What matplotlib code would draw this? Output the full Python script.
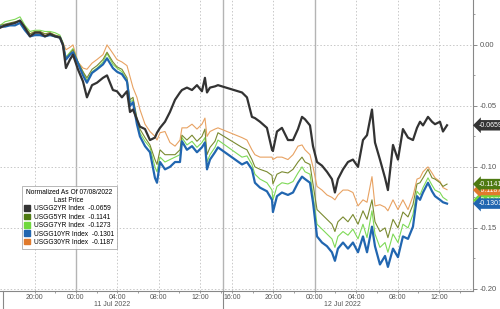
import matplotlib
matplotlib.use("Agg")
import matplotlib.pyplot as plt
import matplotlib.patches as mpatches
import matplotlib.transforms as mtransforms

plt.rcParams['font.family'] = ['Liberation Sans', 'DejaVu Sans']

# hours from 00:00 11 Jul 2022, on a session axis (the lunch/close gap is squeezed out)
GAP = 0.93
hours = [-7.34, -6.86, -6.38, -5.89, -5.41, -4.93, -4.44, -3.96, -3.48, -3.00,
         -2.51, -2.03, -1.55, -1.26, -0.97, -0.58, -0.29, 0.19, 0.68, 1.06,
         1.55, 2.03, 2.61, 3.00, 3.57, 3.96, 4.44, 4.93, 5.22, 5.51,
         5.89, 6.18, 6.67, 7.15, 7.63, 7.83, 8.12, 8.60, 9.08, 9.57,
         10.05, 10.24, 10.72, 11.21, 11.69, 12.17, 12.46, 12.66, 12.95, 13.43,
         13.72,
         16.04, 16.52, 17.00, 17.29, 17.78, 18.45, 18.94, 19.03, 19.42, 19.90,
         20.48, 20.97, 21.45, 21.84, 22.13, 22.61, 22.90, 23.29, 23.77, 24.25,
         24.73, 25.02, 25.31, 25.80, 26.28, 26.76, 27.25, 27.73, 28.12, 28.60,
         28.89, 29.37, 29.86, 30.14, 30.63, 31.11, 31.59, 32.08, 32.56, 32.95,
         33.24, 33.53, 34.01, 34.40, 34.69, 35.17, 35.46, 35.85]

usgg2yr = [0.014, 0.016, 0.017, 0.018, 0.020, 0.014, 0.007, 0.010, 0.010, 0.007,
           0.009, 0.007, 0.006, 0.000, -0.019, -0.012, -0.008, -0.020, -0.030, -0.043,
           -0.033, -0.031, -0.027, -0.025, -0.037, -0.038, -0.043, -0.038, -0.055, -0.053,
           -0.061, -0.067, -0.069, -0.078, -0.076, -0.072, -0.068, -0.063, -0.055, -0.045,
           -0.039, -0.037, -0.035, -0.037, -0.033, -0.038, -0.027, -0.039, -0.035, -0.034,
           -0.033,
           -0.039, -0.043, -0.059, -0.060, -0.063, -0.068, -0.086, -0.087, -0.071, -0.068,
           -0.078, -0.078, -0.069, -0.059, -0.061, -0.066, -0.083, -0.096, -0.099, -0.104,
           -0.110, -0.121, -0.110, -0.102, -0.096, -0.094, -0.100, -0.078, -0.074, -0.053,
           -0.080, -0.094, -0.109, -0.119, -0.082, -0.094, -0.069, -0.076, -0.078, -0.068,
           -0.063, -0.066, -0.059, -0.063, -0.065, -0.063, -0.071, -0.0659]

usgg5yr = [0.016, 0.017, 0.018, 0.019, 0.020, 0.015, 0.009, 0.011, 0.011, 0.009,
           0.010, 0.008, 0.007, 0.001, -0.011, -0.007, -0.004, -0.014, -0.022, -0.027,
           -0.020, -0.017, -0.012, -0.006, -0.014, -0.018, -0.020, -0.027, -0.045, -0.043,
           -0.060, -0.069, -0.076, -0.082, -0.094, -0.098, -0.086, -0.090, -0.090, -0.090,
           -0.086, -0.074, -0.078, -0.074, -0.079, -0.075, -0.069, -0.090, -0.084, -0.079,
           -0.072,
           -0.084, -0.086, -0.094, -0.100, -0.102, -0.104, -0.107, -0.114, -0.106, -0.104,
           -0.105, -0.102, -0.096, -0.092, -0.096, -0.098, -0.114, -0.135, -0.139, -0.143,
           -0.147, -0.153, -0.145, -0.141, -0.145, -0.139, -0.147, -0.136, -0.143, -0.127,
           -0.145, -0.153, -0.150, -0.158, -0.143, -0.150, -0.137, -0.141, -0.131, -0.114,
           -0.113, -0.109, -0.102, -0.109, -0.110, -0.113, -0.116, -0.1141]

usgg7yr = [0.016, 0.019, 0.020, 0.021, 0.023, 0.016, 0.011, 0.012, 0.012, 0.011,
           0.011, 0.010, 0.008, 0.002, -0.010, -0.006, -0.003, -0.014, -0.022, -0.029,
           -0.022, -0.019, -0.014, -0.007, -0.016, -0.019, -0.022, -0.029, -0.047, -0.045,
           -0.061, -0.072, -0.079, -0.084, -0.100, -0.104, -0.092, -0.096, -0.094, -0.092,
           -0.090, -0.076, -0.082, -0.079, -0.084, -0.080, -0.076, -0.096, -0.090, -0.084,
           -0.078,
           -0.092, -0.091, -0.098, -0.106, -0.110, -0.113, -0.119, -0.127, -0.116, -0.113,
           -0.114, -0.112, -0.105, -0.100, -0.104, -0.106, -0.123, -0.147, -0.151, -0.155,
           -0.159, -0.166, -0.157, -0.153, -0.156, -0.151, -0.159, -0.147, -0.158, -0.136,
           -0.155, -0.166, -0.162, -0.170, -0.155, -0.162, -0.147, -0.150, -0.139, -0.120,
           -0.123, -0.117, -0.109, -0.115, -0.119, -0.121, -0.125, -0.1273]

usgg10yr = [0.015, 0.015, 0.016, 0.016, 0.018, 0.012, 0.007, 0.008, 0.008, 0.007,
            0.008, 0.007, 0.006, 0.000, -0.012, -0.008, -0.006, -0.015, -0.025, -0.031,
            -0.023, -0.020, -0.016, -0.011, -0.019, -0.022, -0.024, -0.030, -0.050, -0.047,
            -0.065, -0.075, -0.083, -0.088, -0.109, -0.113, -0.096, -0.102, -0.100, -0.096,
            -0.096, -0.079, -0.086, -0.083, -0.088, -0.084, -0.080, -0.102, -0.094, -0.088,
            -0.084,
            -0.098, -0.096, -0.102, -0.113, -0.117, -0.120, -0.127, -0.137, -0.124, -0.121,
            -0.123, -0.121, -0.113, -0.108, -0.110, -0.113, -0.129, -0.157, -0.162, -0.165,
            -0.170, -0.177, -0.167, -0.162, -0.167, -0.162, -0.170, -0.157, -0.170, -0.149,
            -0.165, -0.180, -0.173, -0.182, -0.167, -0.174, -0.157, -0.159, -0.149, -0.124,
            -0.127, -0.121, -0.113, -0.120, -0.124, -0.127, -0.129, -0.1301]

usgg30yr = [0.015, 0.016, 0.017, 0.018, 0.020, 0.014, 0.009, 0.011, 0.011, 0.009,
            0.010, 0.008, 0.007, 0.002, -0.004, -0.002, 0.000, -0.014, -0.019, -0.020,
            -0.015, -0.012, -0.008, 0.000, -0.007, -0.012, -0.014, -0.017, -0.026, -0.035,
            -0.043, -0.053, -0.065, -0.071, -0.075, -0.078, -0.072, -0.071, -0.080, -0.083,
            -0.078, -0.068, -0.068, -0.065, -0.069, -0.065, -0.060, -0.075, -0.071, -0.069,
            -0.068,
            -0.076, -0.078, -0.086, -0.090, -0.092, -0.092, -0.092, -0.094, -0.092, -0.092,
            -0.094, -0.090, -0.083, -0.082, -0.086, -0.090, -0.100, -0.116, -0.119, -0.123,
            -0.125, -0.127, -0.123, -0.119, -0.119, -0.121, -0.132, -0.127, -0.129, -0.108,
            -0.132, -0.131, -0.133, -0.136, -0.127, -0.135, -0.127, -0.135, -0.124, -0.110,
            -0.109, -0.104, -0.100, -0.105, -0.109, -0.112, -0.117, -0.1187]

names = ['USGG2YR Index', 'USGG5YR Index', 'USGG7YR Index', 'USGG10YR Index', 'USGG30YR Index']
last = [-0.0659, -0.1141, -0.1273, -0.1301, -0.1187]
colors = ['#333333', '#4e7a12', '#6fd83c', '#2166b0', '#e07a2c']
line_colors = ['#333333', '#7a8a30', '#7ed957', '#2166b0', '#e8a262']
widths = [1.6, 0.8, 0.8, 1.6, 0.8]

# tick times (real clock hours from 00:00 11 Jul); after the 16:00 break shift by GAP
tick_real = [-4, 0, 4, 8, 12, 16, 20, 24, 28, 32, 36]
tick_text = ['20:00', '00:00', '04:00', '08:00', '12:00', '16:00', '20:00',
             '00:00', '04:00', '08:00', '12:00']
break_pos = 14.2

ticks = [t if t < 15 else t - GAP for t in tick_real]

fig = plt.figure(figsize=(5.0, 3.09), dpi=100)
ax = fig.add_axes([0.0, 0.058, 0.946, 0.942])

grid_c = '#c8c8c8'
for t, lab in zip(ticks, tick_text):
    if lab == '00:00':
        ax.axvline(t, color='#b4b4b4', lw=1.0, zorder=1)
    else:
        ax.axvline(t, color=grid_c, lw=0.7, ls=(0, (1.5, 2)), zorder=1)
ax.axvline(break_pos, color='#b4b4b4', lw=1.0, zorder=1)
for yv in [0.0, -0.05, -0.10, -0.15, -0.20]:
    ax.axhline(yv, color=grid_c, lw=0.7, ls=(0, (1.5, 2)), zorder=1)

# session separators running down into the date row
for sep in [-7.05, break_pos]:
    ax.axvline(sep, ymin=-0.07, ymax=0, color='#888888', lw=0.8, clip_on=False)

series = [usgg2yr, usgg5yr, usgg7yr, usgg10yr, usgg30yr]
order = [4, 2, 1, 3, 0]
for i in order:
    ax.plot(hours, series[i], color=line_colors[i], lw=widths[i], zorder=3 + (i in (0, 3)))

ax.set_xlim(-7.34, 38.36)
ax.set_ylim(-0.2018, 0.0368)

for s in ['top', 'left']:
    ax.spines[s].set_visible(False)
for s in ['right', 'bottom']:
    ax.spines[s].set_color('#888888')
    ax.spines[s].set_linewidth(0.8)

ax.yaxis.tick_right()
ax.set_yticks([0.0, -0.05, -0.10, -0.15, -0.20])
ax.set_yticklabels(['0.00', '-0.05', '-0.10', '-0.15', '-0.20'])
ax.set_yticks([0.025, -0.025, -0.075, -0.125, -0.175], minor=True)
ax.tick_params(axis='y', which='major', direction='out', length=3, width=0.6,
               colors='#777777', labelsize=5.5, pad=1.5, labelcolor='#555555')
ax.tick_params(axis='y', which='minor', direction='out', length=1.5, width=0.5,
               colors='#777777')

ax.set_xticks(ticks)
ax.set_xticklabels(tick_text)
ax.set_xticks([t + 2 for t in ticks], minor=True)
ax.tick_params(axis='x', which='major', direction='out', length=1.5, width=0.5,
               colors='#777777', labelsize=5.0, pad=0.5, labelcolor='#555555')
ax.tick_params(axis='x', which='minor', direction='out', length=1.5, width=0.5,
               colors='#777777')

trans = mtransforms.blended_transform_factory(ax.transData, ax.transAxes)
ax.text(3.45, -0.033, '11 Jul 2022', transform=trans, ha='center', va='top',
        fontsize=5.0, color='#555555')
ax.text(25.7, -0.033, '12 Jul 2022', transform=trans, ha='center', va='top',
        fontsize=5.0, color='#555555')

# last-price tags on the right axis
ytrans = mtransforms.blended_transform_factory(ax.transAxes, ax.transData)
tag_order = [2, 4, 1, 3, 0]
tag_y = {0: -0.0659, 1: -0.1141, 2: -0.1273, 3: -0.1301, 4: -0.1190}
for i in tag_order:
    ax.text(1.012, tag_y[i], '%.4f' % last[i], transform=ytrans, ha='left', va='center',
            fontsize=5.0, color='white', clip_on=False, zorder=10,
            bbox=dict(boxstyle='larrow,pad=0.25', fc=colors[i], ec='none'))

handles = [mpatches.Patch(color=c, label='%s  %.4f' % (n, v))
           for n, v, c in zip(names, last, colors)]
leg = ax.legend(handles=handles, loc='upper left', bbox_to_anchor=(0.046, 0.36),
                title='Normalized As Of 07/08/2022\nLast Price', fontsize=4.8,
                title_fontsize=4.8, frameon=True, fancybox=False, edgecolor='#999999',
                handlelength=0.9, handleheight=0.9, handletextpad=0.5,
                labelspacing=0.2, borderpad=0.4, borderaxespad=0)
leg.get_title().set_multialignment('center')
leg.get_frame().set_linewidth(0.6)
leg.set_zorder(20)

fig.savefig('out.png', dpi=100)
